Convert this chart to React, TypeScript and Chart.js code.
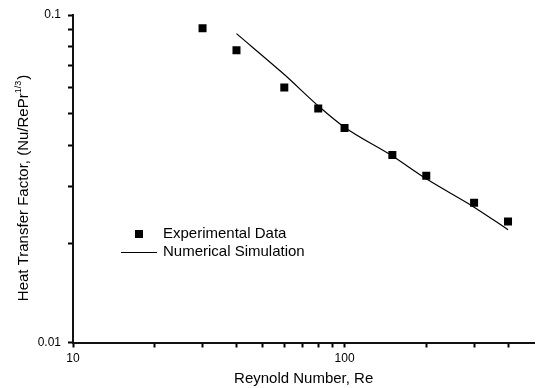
import React, { useEffect, useRef } from 'react';
import { Chart, registerables } from 'chart.js';

Chart.register(...registerables);

// ---- data ----
const expRe = [30, 40, 60, 80, 100, 150, 200, 300, 400];
const expJ = [0.0911, 0.078, 0.0601, 0.0518, 0.0452, 0.0374, 0.0323, 0.0267, 0.0234];
const simRe = [40, 60, 80, 100, 150, 200, 300, 400];
const simJ = [0.0877, 0.0658, 0.0528, 0.0454, 0.0371, 0.0316, 0.0259, 0.0221];

const xMajorTicks = [10, 100];
const xMinorTicks = [20, 30, 40, 50, 60, 70, 80, 90, 200, 300, 400];
const yMajorTicks = [0.01, 0.1];
const yMinorTicks = [0.02, 0.03, 0.04, 0.05, 0.06, 0.07, 0.08, 0.09];

const xTitle = 'Reynold Number, Re';
const yTitleMain = 'Heat Transfer Factor, (Nu/RePr';
const yTitleSup = '1/3';
const yTitleEnd = ')';
const legendLabels = ['Experimental Data', 'Numerical Simulation'];

const FONT = 'Arial, "Liberation Sans", Helvetica, sans-serif';

const decorPlugin = {
  id: 'decor',
  afterDraw(chart: any) {
    const ctx = chart.ctx as CanvasRenderingContext2D;
    const area = chart.chartArea;

    // axis titles
    ctx.save();
    ctx.fillStyle = '#000';
    ctx.font = `15px ${FONT}`;
    ctx.textAlign = 'center';
    ctx.textBaseline = 'middle';
    ctx.fillText(xTitle, (area.left + area.right) / 2, 379);

    // y title with superscript
    const mainFont = `15px ${FONT}`;
    const supFont = `9px ${FONT}`;
    ctx.font = mainFont;
    const w1 = ctx.measureText(yTitleMain).width;
    const w3 = ctx.measureText(yTitleEnd).width;
    ctx.font = supFont;
    const w2 = ctx.measureText(yTitleSup).width;
    const total = w1 + w2 + 1 + w3;
    ctx.translate(24, 188);
    ctx.rotate(-Math.PI / 2);
    ctx.textAlign = 'left';
    ctx.textBaseline = 'middle';
    let cx = -total / 2;
    ctx.font = mainFont;
    ctx.fillText(yTitleMain, cx, 0);
    cx += w1;
    ctx.font = supFont;
    ctx.fillText(yTitleSup, cx, -5);
    cx += w2 + 1;
    ctx.font = mainFont;
    ctx.fillText(yTitleEnd, cx, 0);
    ctx.restore();

    // legend
    ctx.save();
    const ds0 = chart.data.datasets[0];
    const ds1 = chart.data.datasets[1];
    const lx = area.left + 66;
    const ly0 = 234;
    const ly1 = 252;
    ctx.fillStyle = ds0.backgroundColor;
    ctx.fillRect(lx - 4, ly0 - 4, 8, 8);
    ctx.strokeStyle = ds1.borderColor;
    ctx.lineWidth = ds1.borderWidth;
    ctx.beginPath();
    ctx.moveTo(area.left + 48, ly1 + 0.5);
    ctx.lineTo(area.left + 84, ly1 + 0.5);
    ctx.stroke();
    ctx.fillStyle = '#000';
    ctx.font = `15px ${FONT}`;
    ctx.textAlign = 'left';
    ctx.textBaseline = 'middle';
    ctx.fillText(legendLabels[0], area.left + 90, ly0);
    ctx.fillText(legendLabels[1], area.left + 90, ly1);
    ctx.restore();
  },
};

const xMajorSet = new Set(xMajorTicks);
const yMajorSet = new Set(yMajorTicks);

export default function App() {
  const ref = useRef<HTMLCanvasElement | null>(null);
  useEffect(() => {
    document.body.style.margin = '0';
    const canvas = ref.current;
    if (!canvas) return;
    const chart = new Chart(canvas, {
      type: 'scatter',
      data: {
        datasets: [
          {
            label: legendLabels[0],
            data: expRe.map((x, i) => ({ x, y: expJ[i] })),
            pointStyle: 'rect',
            pointRadius: 5.66,
            pointBorderWidth: 0,
            backgroundColor: '#000',
            borderColor: '#000',
            showLine: false,
          },
          {
            label: legendLabels[1],
            data: simRe.map((x, i) => ({ x, y: simJ[i] })),
            showLine: true,
            pointRadius: 0,
            borderColor: '#000',
            backgroundColor: '#000',
            borderWidth: 1.2,
            cubicInterpolationMode: 'monotone',
          },
        ],
      },
      options: {
        animation: false,
        responsive: false,
        devicePixelRatio: 1,
        layout: { padding: { top: 15, left: 0, right: 0, bottom: 0 } },
        plugins: { legend: { display: false }, tooltip: { enabled: false } },
        scales: {
          x: {
            type: 'logarithmic',
            min: 10,
            max: 500,
            grid: {
              display: true,
              drawOnChartArea: false,
              drawTicks: true,
              tickLength: 5,
              tickWidth: 2,
              tickColor: '#000',
            },
            border: { display: true, color: '#111', width: 2 },
            afterBuildTicks: (axis: any) => {
              axis.ticks = [...xMajorTicks, ...xMinorTicks]
                .sort((a, b) => a - b)
                .map((v) => ({ value: v, major: xMajorSet.has(v) }));
            },
            afterFit: (axis: any) => {
              axis.height = 45.5;
            },
            ticks: {
              autoSkip: false,
              maxRotation: 0,
              padding: 4,
              color: '#000',
              font: { family: FONT, size: 12 },
              callback: (v: any) => (xMajorSet.has(Number(v)) ? String(v) : ''),
            },
          },
          y: {
            type: 'logarithmic',
            min: 0.01,
            max: 0.1,
            grid: {
              display: true,
              drawOnChartArea: false,
              drawTicks: true,
              tickLength: 5,
              tickWidth: 2,
              tickColor: '#000',
            },
            border: { display: true, color: '#111', width: 2 },
            afterBuildTicks: (axis: any) => {
              axis.ticks = [...yMajorTicks, ...yMinorTicks]
                .sort((a, b) => a - b)
                .map((v) => ({ value: v, major: yMajorSet.has(v) }));
            },
            afterFit: (axis: any) => {
              axis.width = 73;
            },
            ticks: {
              autoSkip: false,
              padding: 7,
              color: '#000',
              font: { family: FONT, size: 12 },
              callback: (v: any) => (yMajorSet.has(Number(v)) ? String(v) : ''),
            },
          },
        },
      },
      plugins: [decorPlugin],
    });
    return () => chart.destroy();
  }, []);
  return (
    <div style={{ width: 540, height: 388 }}>
      <canvas ref={ref} width={540} height={388} style={{ display: 'block' }} />
    </div>
  );
}
